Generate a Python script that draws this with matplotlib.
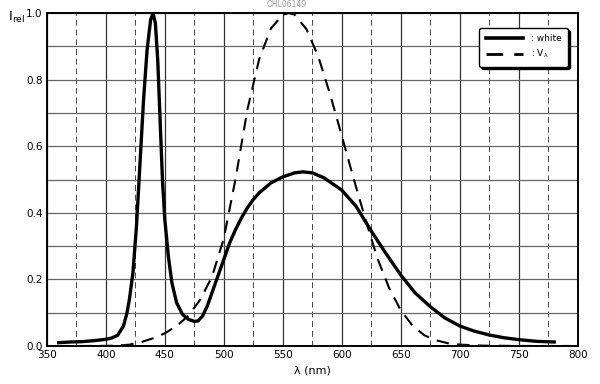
import matplotlib.pyplot as plt
from matplotlib.ticker import MultipleLocator

# relative spectral emission, white LED
wl_white = [360, 370, 380, 390, 400, 405, 410, 415, 418, 420, 423, 426, 429, 432,
            435, 438, 440, 442, 444, 446, 448, 450, 453, 456, 460, 465, 470, 475,
            478, 482, 486, 490, 495, 500, 505, 510, 515, 520, 525, 530, 540, 550,
            560, 567, 575, 585, 600, 612, 625, 637, 650, 662, 675, 687, 700, 712,
            725, 737, 750, 765, 780]
i_white = [0.010, 0.012, 0.013, 0.016, 0.020, 0.024, 0.032, 0.060, 0.100, 0.140,
           0.220, 0.360, 0.550, 0.740, 0.890, 0.980, 1.000, 0.970, 0.860, 0.680,
           0.500, 0.380, 0.270, 0.190, 0.130, 0.095, 0.080, 0.074, 0.075, 0.090,
           0.120, 0.160, 0.210, 0.260, 0.310, 0.350, 0.385, 0.415, 0.440, 0.460,
           0.490, 0.508, 0.520, 0.523, 0.520, 0.505, 0.468, 0.420, 0.345, 0.280,
           0.213, 0.160, 0.118, 0.085, 0.060, 0.045, 0.033, 0.025, 0.019, 0.014,
           0.012]

# eye sensitivity V(lambda)
wl_v = [360, 380, 400, 410, 420, 430, 440, 450, 460, 470, 480, 490, 500, 510,
        520, 530, 540, 550, 555, 560, 570, 580, 590, 600, 610, 620, 630, 640,
        650, 660, 670, 680, 690, 700, 720, 750, 795]
v_lambda = [0.0, 0.0, 0.0004, 0.0012, 0.004, 0.0116, 0.023, 0.038, 0.060, 0.091,
            0.139, 0.208, 0.323, 0.503, 0.710, 0.862, 0.954, 0.995, 1.000, 0.995,
            0.952, 0.870, 0.757, 0.631, 0.503, 0.381, 0.265, 0.175, 0.107, 0.061,
            0.032, 0.017, 0.0082, 0.0041, 0.001, 0.0001, 0.0]

plt.rcParams["font.family"] = "DejaVu Sans"

fig = plt.figure(figsize=(6, 3.84), dpi=100)
ax = fig.add_axes([0.078, 0.099, 0.885, 0.867])

ax.set_xlim(350, 800)
ax.set_ylim(0, 1.0)
ax.xaxis.set_major_locator(MultipleLocator(50))
ax.xaxis.set_minor_locator(MultipleLocator(25))
ax.yaxis.set_major_locator(MultipleLocator(0.2))
ax.yaxis.set_minor_locator(MultipleLocator(0.1))

ax.grid(which="major", axis="x", color="#333333", lw=0.9)
ax.grid(which="minor", axis="x", color="#444444", lw=0.7, ls=(0, (6, 4)))
ax.grid(which="both", axis="y", color="#666666", lw=0.9)
ax.set_axisbelow(True)

ax.tick_params(which="both", length=0, labelsize=7.5, pad=3)
ax.yaxis.set_major_formatter(plt.FormatStrFormatter("%.1f"))
for s in ax.spines.values():
    s.set_linewidth(1.4)
    s.set_color("black")

ax.plot(wl_white, i_white, color="black", lw=2.4, label=": white")
ax.plot(wl_v, v_lambda, color="black", lw=1.5, ls=(0, (6, 4)), label=r": V$_\mathrm{λ}$")

ax.set_xlabel("λ (nm)", fontsize=8, labelpad=4)
fig.text(0.013, 0.945, r"I$_\mathrm{rel}$", fontsize=9.5)
fig.text(0.478, 0.982, "OHL06149", fontsize=5.5, color="#999999", ha="center")

leg = ax.legend(loc="upper right", bbox_to_anchor=(0.981, 0.955), borderaxespad=0,
                fontsize=6.5, fancybox=True, shadow={"color": "black", "alpha": 1},
                framealpha=1, edgecolor="black", handlelength=4.2, handletextpad=0.8,
                borderpad=0.7, labelspacing=0.5)
leg.get_frame().set_linewidth(1.0)
for ln, w in zip(leg.get_lines(), [2.6, 2.0]):
    ln.set_linewidth(w)

fig.savefig("out.png", dpi=100)
